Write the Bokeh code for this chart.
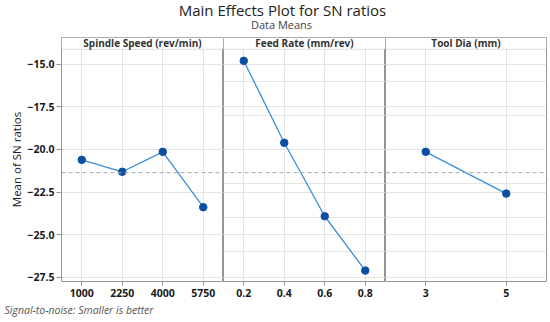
from bokeh.plotting import figure
from bokeh.models import (FactorRange, Range1d, Span, BoxAnnotation, Label, Title,
                          FixedTicker, Grid)
from bokeh.layouts import row, column
from bokeh.embed import file_html
from bokeh.resources import INLINE
from bokeh.core.properties import value
import numpy as np

# ---- data ----
spindle_levels = ["1000", "2250", "4000", "5750"]
spindle_sn = [-20.61, -21.31, -20.14, -23.39]
feed_levels = ["0.2", "0.4", "0.6", "0.8"]
feed_sn = [-14.80, -19.61, -23.92, -27.11]
tool_levels = ["3", "5"]
tool_sn = [-20.14, -22.59]
panel_titles = ["Spindle Speed (rev/min)", "Feed Rate (mm/rev)", "Tool Dia (mm)"]
y_ticks = [-15.0, -17.5, -20.0, -22.5, -25.0, -27.5]
main_title = "Main Effects Plot for SN ratios"
sub_title = "Data Means"
y_label = "Mean of SN ratios"
footnote = "Signal-to-noise: Smaller is better"

overall_mean = float(np.mean(spindle_sn + feed_sn + tool_sn))

FONT = "Open Sans"
LINE_C = "#3a8edb"
MARK_C = "#0b4ea2"
OUTLINE_C = "#959595"
GRID_C = "#e4e4e4"

Y_START, Y_END = -27.75, -13.43
STRIP_BOTTOM = -14.12
FRAME_H = 244

def make_panel(levels, vals, title, frame_w, first=False, last=False):
    p = figure(x_range=FactorRange(*levels), y_range=Range1d(Y_START, Y_END),
               frame_width=frame_w, frame_height=FRAME_H,
               output_backend="svg", toolbar_location=None,
               y_axis_location="left" if first else None,
               min_border_left=61 if first else 0,
               min_border_right=3 if last else 0,
               min_border_top=0, min_border_bottom=0)
    p.background_fill_color = "white"
    p.border_fill_color = "white"
    p.outline_line_color = OUTLINE_C
    p.outline_line_width = 1
    p.xgrid.grid_line_color = GRID_C
    if first:
        p.yaxis.ticker = FixedTicker(ticks=y_ticks)
        p.yaxis.major_label_overrides = {t: f"\u2212{abs(t):.1f}" for t in y_ticks}
        p.yaxis.axis_label = y_label
        p.yaxis.axis_label_text_font = FONT
        p.yaxis.axis_label_text_font_size = "11.5px"
        p.yaxis.axis_label_text_font_style = "normal"
        p.yaxis.axis_label_text_color = "#222222"
        p.yaxis.axis_label_standoff = 0
        p.yaxis.major_label_text_font = FONT
        p.yaxis.major_label_text_font_size = "10.5px"
        p.yaxis.major_label_text_font_style = "bold"
        p.yaxis.major_label_text_color = "#1a1a1a"
        p.yaxis.major_label_standoff = 2
        p.yaxis.major_tick_out = 5
        p.yaxis.major_tick_in = 0
        p.yaxis.minor_tick_line_color = None
        p.yaxis.axis_line_color = None
        p.yaxis.major_tick_line_color = OUTLINE_C
        p.ygrid.grid_line_color = GRID_C
    else:
        p.add_layout(Grid(dimension=1, ticker=FixedTicker(ticks=y_ticks),
                          grid_line_color=GRID_C))
    p.xaxis.major_label_text_font = FONT
    p.xaxis.major_label_text_font_size = "10.5px"
    p.xaxis.major_label_text_font_style = "bold"
    p.xaxis.major_label_text_color = "#1a1a1a"
    p.xaxis.major_label_standoff = 3
    p.xaxis.major_tick_out = 4
    p.xaxis.major_tick_in = 0
    p.xaxis.major_tick_line_color = OUTLINE_C
    p.xaxis.axis_line_color = None
    p.x_range.range_padding = 0

    # mean reference line
    p.add_layout(Span(location=overall_mean, dimension="width",
                      line_color="#a8a8a8", line_dash="4 3", line_width=1))
    # data
    p.line(levels, vals, line_color=LINE_C, line_width=1.3)
    p.scatter(levels, vals, size=7.5, fill_color=MARK_C, line_color=MARK_C)

    # strip header
    p.add_layout(BoxAnnotation(bottom=STRIP_BOTTOM, fill_color="white", fill_alpha=1,
                               line_color=OUTLINE_C, line_width=1, level="overlay"))
    p.add_layout(Label(x=len(levels) / 2, y=(STRIP_BOTTOM + Y_END) / 2, text=title,
                       text_align="center", text_baseline="middle",
                       text_font=FONT, text_font_size="10px",
                       text_font_style="bold", text_color="#333333", level="overlay"))
    return p

p1 = make_panel(spindle_levels, spindle_sn, panel_titles[0], 162, first=True)
p2 = make_panel(feed_levels, feed_sn, panel_titles[1], 162)
p3 = make_panel(tool_levels, tool_sn, panel_titles[2], 161, last=True)

p1.add_layout(Title(text=footnote, align="left", text_font=FONT,
                    text_font_size="10.5px", text_font_style="italic",
                    text_color="#555555", standoff=2, offset=-57), "below")

# title figure
TH = 37
tf = figure(width=549, height=TH, x_range=Range1d(0, 549), y_range=Range1d(TH, 0),
            output_backend="svg", toolbar_location=None,
            x_axis_location=None, y_axis_location=None,
            min_border=0)
tf.outline_line_color = None
tf.xgrid.visible = False
tf.ygrid.visible = False
tf.text(x=[282], y=[9.5], text=[main_title], text_align="center", text_baseline="middle",
        text_font=value(FONT), text_font_size="15px", text_color="#222222")
tf.text(x=[281], y=[24], text=[sub_title], text_align="center", text_baseline="middle",
        text_font=value(FONT), text_font_size="11px", text_color="#444444")

layout = column(tf, row(p1, p2, p3, spacing=0), spacing=0)
open("out.html", "w").write(file_html(layout, INLINE))
